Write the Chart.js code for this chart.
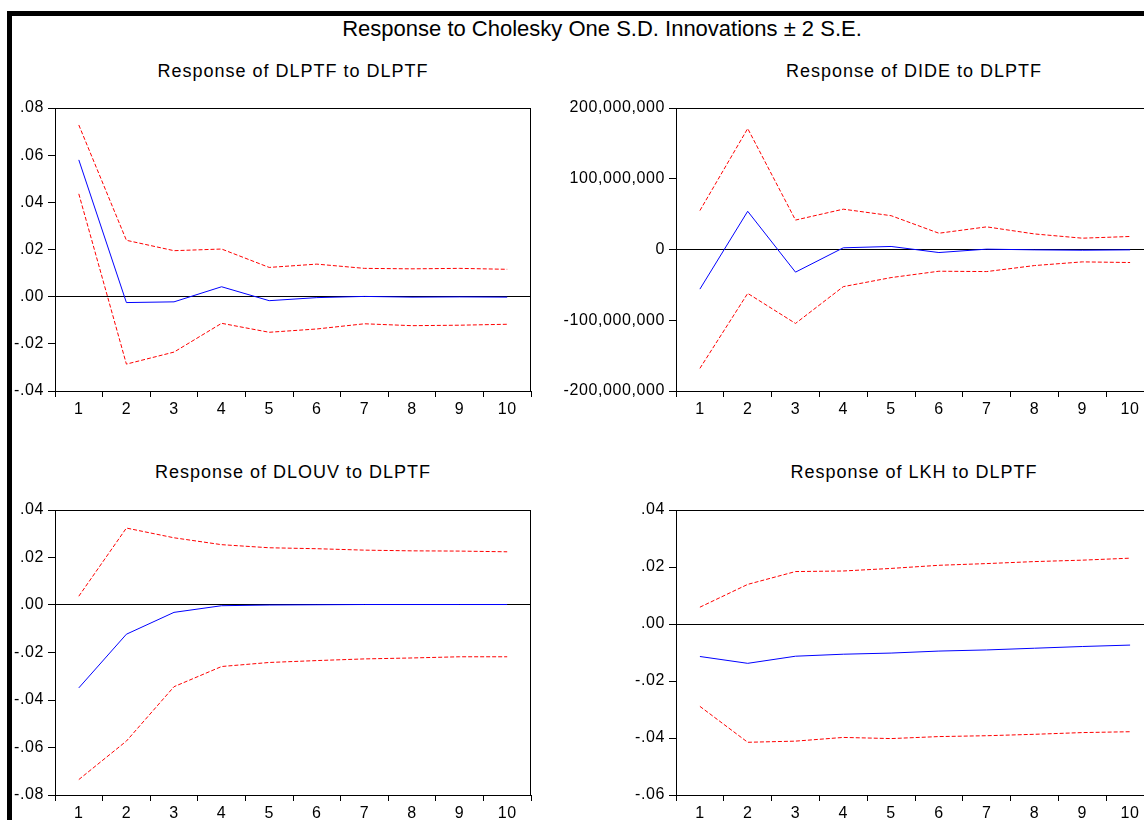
<!DOCTYPE html>
<html lang="en">
<head>
    <meta charset="UTF-8">
    <title>Response to Cholesky One S.D. Innovations</title>
    <style>
        html, body {
            margin: 0;
            padding: 0;
            width: 1144px;
            height: 820px;
            overflow: hidden;
            background: #fff;
            font-family: 'Liberation Sans', Arial, sans-serif;
        }
        #frame {
            position: absolute;
            left: 7px;
            top: 11px;
            width: 1300px;
            height: 900px;
            border-top: 5px solid #000;
            border-left: 5px solid #000;
        }
        .title {
            position: absolute;
            transform: translateX(-50%);
            white-space: nowrap;
            color: #000;
        }
        #mainTitle {
            font-size: 22px;
            line-height: 22px;
        }
        .sub {
            font-size: 18px;
            line-height: 18px;
            letter-spacing: 1px;
        }
        canvas {
            position: absolute;
        }
    </style>
</head>
<body>
    <div id="frame"></div>
    <div id="mainTitle" class="title" style="left:602px; top:18px;">Response to Cholesky One S.D. Innovations ± 2 S.E.</div>
    <div class="title sub" style="left:293px; top:62px;">Response of DLPTF to DLPTF</div>
    <div class="title sub" style="left:914px; top:62px;">Response of DIDE to DLPTF</div>
    <div class="title sub" style="left:293px; top:463px;">Response of DLOUV to DLPTF</div>
    <div class="title sub" style="left:914px; top:463px;">Response of LKH to DLPTF</div>

    <canvas id="c1" width="523" height="331" style="left:12px; top:90px;"></canvas>
    <canvas id="c2" width="602" height="331" style="left:556px; top:90px;"></canvas>
    <canvas id="c3" width="523" height="333" style="left:12px; top:492px;"></canvas>
    <canvas id="c4" width="602" height="333" style="left:556px; top:492px;"></canvas>

    <script src="https://cdn.jsdelivr.net/npm/chart.js"></script>
    <script>
        // periods after the shock
        const periods = ['1', '2', '3', '4', '5', '6', '7', '8', '9', '10'];

        // Response of DLPTF to DLPTF
        const dlptfResp  = [0.0580, -0.0025, -0.0022, 0.0042, -0.0017, -0.0004, 0.0001, -0.0002, -0.0001, -0.0002];
        const dlptfUpper = [0.0728, 0.0239, 0.0195, 0.0202, 0.0124, 0.0138, 0.0120, 0.0118, 0.0120, 0.0116];
        const dlptfLower = [0.0436, -0.0286, -0.0235, -0.0113, -0.0151, -0.0137, -0.0115, -0.0123, -0.0121, -0.0117];

        // Response of DIDE to DLPTF
        const dideResp  = [-56000000, 54000000, -32000000, 2400000, 4300000, -4300000, 500000, -500000, -1000000, -500000];
        const dideUpper = [55000000, 171000000, 41600000, 57000000, 47800000, 23000000, 32000000, 22000000, 16000000, 18400000];
        const dideLower = [-168000000, -62000000, -104500000, -52500000, -39700000, -30700000, -31200000, -22700000, -17500000, -18400000];

        // Response of DLOUV to DLPTF
        const dlouvResp  = [-0.0349, -0.0123, -0.0031, -0.0003, 0.0000, 0.0001, 0.0002, 0.0002, 0.0002, 0.0002];
        const dlouvUpper = [0.0037, 0.0324, 0.0283, 0.0254, 0.0241, 0.0237, 0.0231, 0.0228, 0.0227, 0.0224];
        const dlouvLower = [-0.0735, -0.0573, -0.0344, -0.0259, -0.0242, -0.0234, -0.0227, -0.0223, -0.0218, -0.0218];

        // Response of LKH to DLPTF
        const lkhResp  = [-0.0114, -0.0138, -0.0113, -0.0106, -0.0102, -0.0095, -0.0091, -0.0085, -0.0079, -0.0074];
        const lkhUpper = [0.0059, 0.0139, 0.0184, 0.0186, 0.0195, 0.0206, 0.0212, 0.0219, 0.0224, 0.0231];
        const lkhLower = [-0.0289, -0.0415, -0.0411, -0.0398, -0.0402, -0.0395, -0.0392, -0.0387, -0.0381, -0.0378];

        Chart.defaults.font.family = "'Liberation Sans', Arial, sans-serif";
        Chart.defaults.font.size = 16;
        Chart.defaults.color = '#000';

        // eviews style labels: .02, -.04
        function fmtDec(v) {
            return v.toFixed(2).replace(/^(-?)0\./, '$1.');
        }
        function fmtBig(v) {
            return Math.round(v).toLocaleString('en-US');
        }

        // a bit of letter spacing like the original tick font
        const spacing = {
            id: 'spacing',
            beforeUpdate(chart) { chart.ctx.letterSpacing = '0.6px'; },
            beforeDraw(chart) { chart.ctx.letterSpacing = '0.6px'; }
        };

        // box round the plot area
        const box = {
            id: 'box',
            afterDraw(chart) {
                const a = chart.chartArea;
                const ctx = chart.ctx;
                ctx.save();
                ctx.strokeStyle = '#000';
                ctx.lineWidth = 1;
                ctx.strokeRect(Math.round(a.left) + 0.5, Math.round(a.top) + 0.5,
                    Math.round(a.right - a.left) - 1, Math.round(a.bottom - a.top));
                ctx.restore();
            }
        };

        function makeChart(id, resp, upper, lower, yMin, yMax, step, fmt, yWidth) {
            return new Chart(document.getElementById(id), {
                type: 'line',
                data: {
                    labels: periods,
                    datasets: [
                        { data: resp, borderColor: '#0000ff', borderWidth: 1, pointRadius: 0, tension: 0 },
                        { data: upper, borderColor: '#ff0000', borderWidth: 1, borderDash: [4, 2], pointRadius: 0, tension: 0 },
                        { data: lower, borderColor: '#ff0000', borderWidth: 1, borderDash: [4, 2], pointRadius: 0, tension: 0 }
                    ]
                },
                options: {
                    responsive: false,
                    animation: false,
                    events: [],
                    layout: { padding: { left: 0, top: 18, right: 4, bottom: 0 } },
                    plugins: { legend: { display: false }, tooltip: { enabled: false } },
                    scales: {
                        x: {
                            offset: true,
                            grid: { offset: true, drawOnChartArea: false, tickLength: 6, tickColor: '#000' },
                            border: { display: true, color: '#000' },
                            ticks: { padding: 3, maxRotation: 0, autoSkip: false },
                            afterFit: s => { s.height = 30; }
                        },
                        y: {
                            min: yMin,
                            max: yMax,
                            grid: {
                                drawOnChartArea: true,
                                tickLength: 7,
                                tickColor: '#000',
                                color: c => (c.tick && Math.abs(c.tick.value) < 1e-9) ? '#000' : 'rgba(0,0,0,0)'
                            },
                            border: { display: true, color: '#000' },
                            ticks: { stepSize: step, padding: 4, callback: v => fmt(v) },
                            afterFit: s => { s.width = yWidth; }
                        }
                    }
                },
                plugins: [spacing, box]
            });
        }

        makeChart('c1', dlptfResp, dlptfUpper, dlptfLower, -0.04, 0.08, 0.02, fmtDec, 43);
        makeChart('c2', dideResp, dideUpper, dideLower, -200000000, 200000000, 100000000, fmtBig, 120);
        makeChart('c3', dlouvResp, dlouvUpper, dlouvLower, -0.08, 0.04, 0.02, fmtDec, 43);
        makeChart('c4', lkhResp, lkhUpper, lkhLower, -0.06, 0.04, 0.02, fmtDec, 120);
    </script>
</body>
</html>
